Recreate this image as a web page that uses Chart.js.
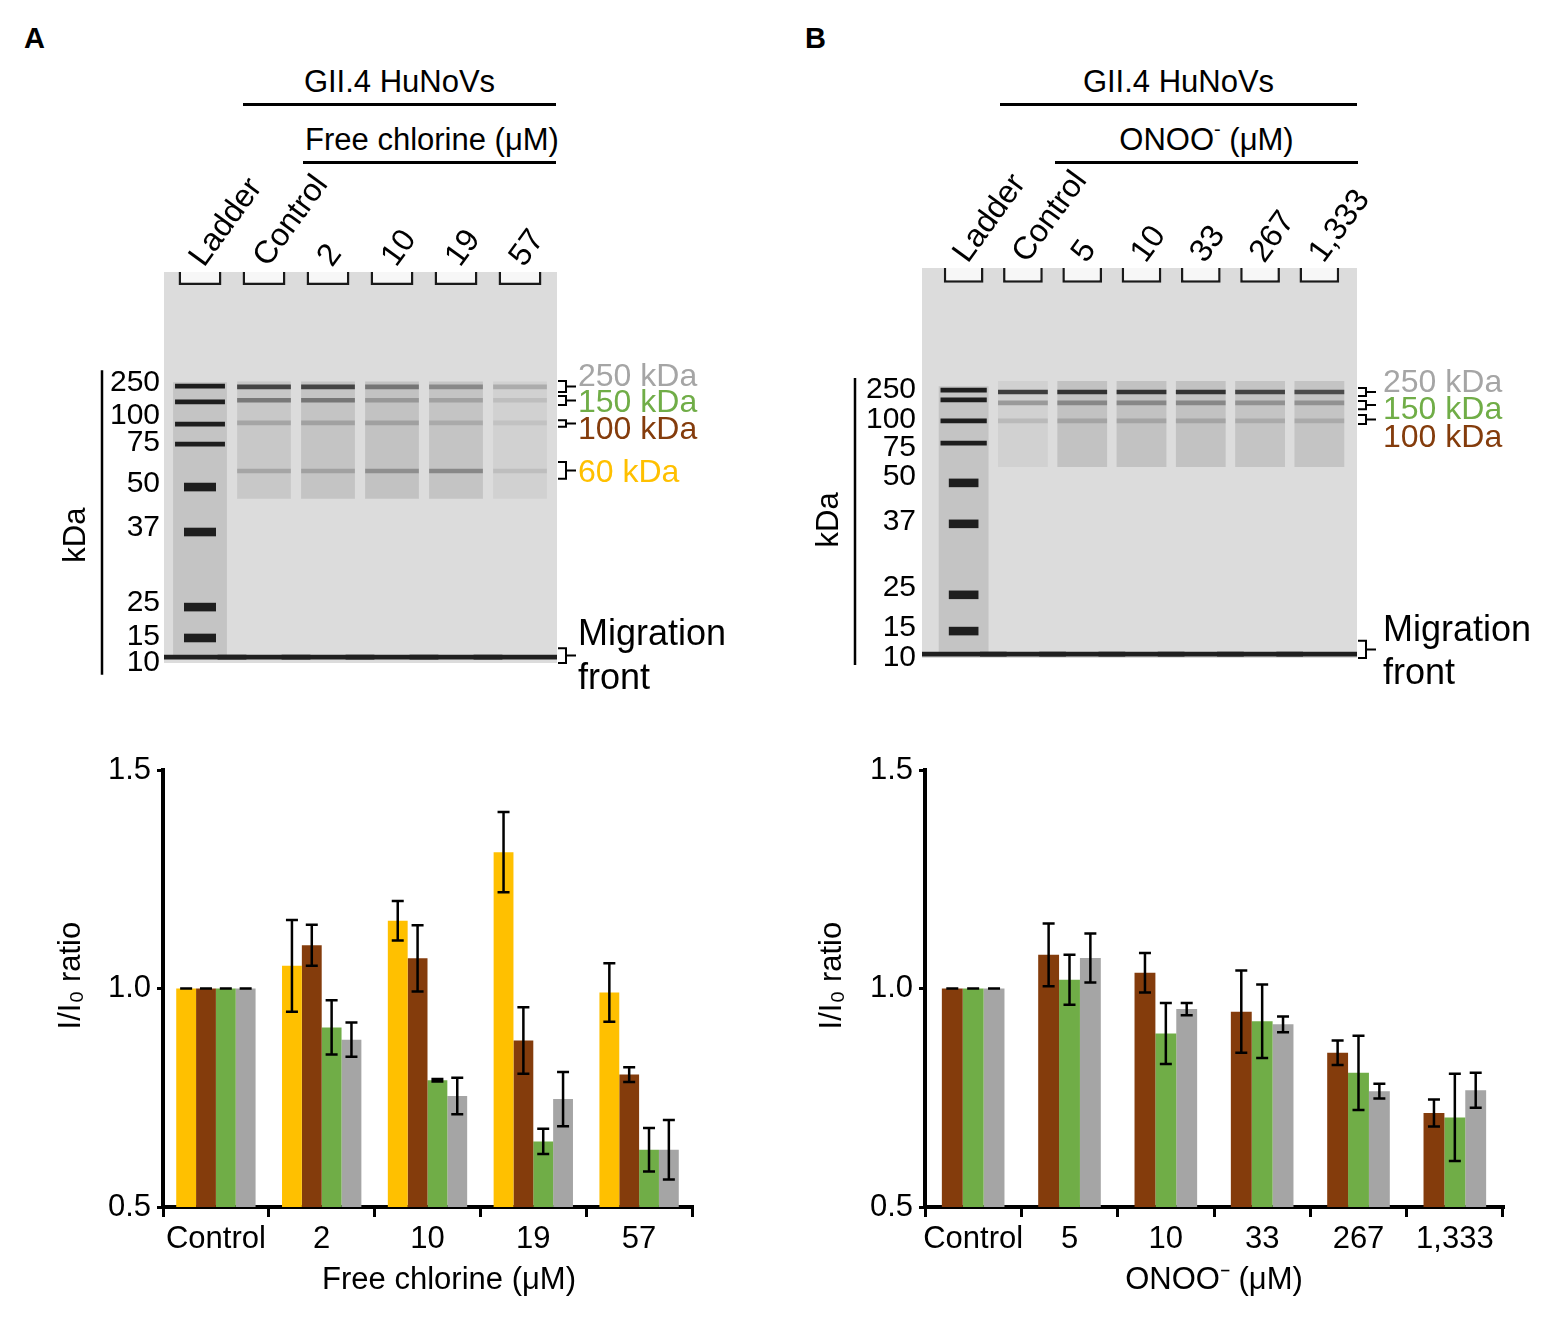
<!DOCTYPE html>
<html>
<head>
<meta charset="utf-8">
<script src="https://cdn.jsdelivr.net/npm/chart.js@4.4.1/dist/chart.umd.min.js"></script>
<style>
  html, body { margin: 0; padding: 0; background: #fff; }
  #fig { position: relative; width: 1562px; height: 1325px; overflow: hidden;
         font-family: "Liberation Sans", Arial, sans-serif; color: #000; }
  .letter { position: absolute; font-weight: bold; font-size: 29px; line-height: 29px; }
  .hdr { position: absolute; font-size: 31px; line-height: 40px; text-align: center; white-space: nowrap; }
  .hdr sup { font-size: 20px; line-height: 0; vertical-align: 0.7em; }
  .rule { position: absolute; height: 3px; background: #000; }
  canvas { position: absolute; }
</style>
</head>
<body>
<div id="fig">
  <div class="letter" style="left:24px;top:24px">A</div>
  <div class="letter" style="left:805px;top:24px">B</div>

  <div class="hdr" style="left:243px;width:313px;top:62px">GII.4 HuNoVs</div>
  <div class="rule" style="left:243px;top:103px;width:313px"></div>
  <div class="hdr" style="left:302px;width:260px;top:120px">Free chlorine (μM)</div>
  <div class="rule" style="left:303px;top:161px;width:253px"></div>

  <div class="hdr" style="left:1000px;width:357px;top:62px">GII.4 HuNoVs</div>
  <div class="rule" style="left:1000px;top:103px;width:357px"></div>
  <div class="hdr" style="left:1055px;width:303px;top:120px">ONOO<sup>-</sup> (μM)</div>
  <div class="rule" style="left:1055px;top:161px;width:303px"></div>

  <canvas id="gelA" width="760" height="540" style="left:0;top:150px"></canvas>
  <canvas id="gelB" width="782" height="540" style="left:780px;top:150px"></canvas>
  <canvas id="barA" width="760" height="605" style="left:0;top:720px"></canvas>
  <canvas id="barB" width="782" height="605" style="left:780px;top:720px"></canvas>
</div>

<script>
// ---------- gel A (free chlorine) ----------
// positions on the gel are migration distance, 0 = wells, 100 = bottom of gel
const lanesA = ['Ladder', 'Control', '2', '10', '19', '57'];
const kdaTicksA = ['250', '100', '75', '50', '37', '25', '15', '10'];
const kdaTickRfA = [28.4, 36.8, 43.7, 54.2, 65.5, 84.7, 93.4, 100];
const ladderBandRfA = [29.2, 33.2, 38.9, 44.0, 55.0, 66.5, 85.7, 93.6];
const bandRfA = [29.4, 32.8, 38.6, 50.9];            // 250, 150, 100, 60 kDa
const bandIntensityA = [
  [0.75, 0.75, 0.45, 0.35, 0.20],
  [0.45, 0.45, 0.25, 0.20, 0.10],
  [0.20, 0.20, 0.20, 0.15, 0.08],
  [0.20, 0.20, 0.30, 0.35, 0.10]
];
const smearA = [0.10, 0.12, 0.13, 0.12, 0.05];
const smearRangeA = [28, 58];
const frontRfA = 98.5;
const markLabelsA = ['250 kDa', '150 kDa', '100 kDa', '60 kDa', ['Migration', 'front']];
const markRfA = [26.9, 33.5, 40.4, 51.4, 98.5];
const bracketsA = [[27.9, 30.7], [31.7, 34.0], [37.9, 39.6], [48.6, 52.9], [96.2, 100]];

// ---------- gel B (peroxynitrite) ----------
const lanesB = ['Ladder', 'Control', '5', '10', '33', '267', '1,333'];
const kdaTicksB = ['250', '100', '75', '50', '37', '25', '15', '10'];
const kdaTickRfB = [31.3, 39.0, 46.2, 53.6, 65.1, 82.1, 92.3, 100];
const ladderBandRfB = [31.3, 33.8, 39.2, 44.9, 55.1, 65.6, 83.8, 93.1];
const bandRfB = [31.8, 34.6, 39.2];                  // 250, 150, 100 kDa
const bandIntensityB = [
  [0.80, 0.85, 0.85, 0.85, 0.75, 0.70],
  [0.30, 0.35, 0.35, 0.35, 0.30, 0.30],
  [0.12, 0.18, 0.18, 0.18, 0.15, 0.15]
];
const smearB = [0.05, 0.13, 0.13, 0.13, 0.12, 0.12];
const smearRangeB = [29, 51];
const frontRfB = 99.0;
const markLabelsB = ['250 kDa', '150 kDa', '100 kDa', ['Migration', 'front']];
const markRfB = [29.5, 36.4, 43.6, 98.6];
const bracketsB = [[30.8, 32.8], [34.1, 36.2], [37.7, 40.0], [95.6, 100]];

// ---------- densitometry ----------
const doseA = ['Control', '2', '10', '19', '57'];
const ratio60A = [1.0, 1.052, 1.155, 1.312, 0.991];
const sd60A = [0, 0.105, 0.045, 0.092, 0.067];
const ratio100A = [1.0, 1.099, 1.069, 0.881, 0.803];
const sd100A = [0, 0.047, 0.076, 0.076, 0.017];
const ratio150A = [1.0, 0.911, 0.790, 0.650, 0.631];
const sd150A = [0, 0.062, 0.003, 0.029, 0.050];
const ratio250A = [1.0, 0.883, 0.754, 0.747, 0.631];
const sd250A = [0, 0.039, 0.042, 0.062, 0.068];

const doseB = ['Control', '5', '10', '33', '267', '1,333'];
const ratio100B = [1.0, 1.077, 1.036, 0.947, 0.853, 0.715];
const sd100B = [0, 0.072, 0.045, 0.094, 0.028, 0.031];
const ratio150B = [1.0, 1.020, 0.897, 0.925, 0.807, 0.705];
const sd150B = [0, 0.057, 0.070, 0.084, 0.085, 0.100];
const ratio250B = [1.0, 1.070, 0.953, 0.918, 0.765, 0.767];
const sd250B = [0, 0.056, 0.014, 0.018, 0.017, 0.040];

const YELLOW = '#ffc000', BROWN = '#843c0c', GREEN = '#70ad47', GREY = '#a5a5a5';
const FONT = '"Liberation Sans", Arial, sans-serif';

Chart.defaults.font.family = FONT;
Chart.defaults.color = '#000';

// axes are sized by hand, so drop the label overhang chart.js would reserve
const noOverhang = s => { s.paddingTop = 0; s.paddingBottom = 0; s.paddingLeft = 0; s.paddingRight = 0; };

// gel slab, kDa bar and the brackets on the right
const gelPlugin = {
  id: 'gel',
  beforeDatasetsDraw(chart, args, o) {
    const { ctx, chartArea: a } = chart;
    ctx.save();
    ctx.fillStyle = '#dcdcdc';
    ctx.fillRect(a.left - o.padLeft, a.top, a.width + o.padLeft + o.padRight, a.height);
    ctx.restore();
  },
  afterDraw(chart, args, o) {
    const { ctx, chartArea: a, scales: { y } } = chart;
    ctx.save();
    ctx.strokeStyle = '#000';
    ctx.fillStyle = '#000';
    ctx.lineWidth = 2.5;
    const x0 = a.left - o.padLeft - o.barGap;
    ctx.beginPath();
    ctx.moveTo(x0, y.getPixelForValue(o.barFrom));
    ctx.lineTo(x0, y.getPixelForValue(o.barTo));
    ctx.stroke();

    ctx.save();
    ctx.translate(x0 - 26, y.getPixelForValue(o.titleAt));
    ctx.rotate(-Math.PI / 2);
    ctx.font = '31px ' + FONT;
    ctx.textAlign = 'center';
    ctx.textBaseline = 'middle';
    ctx.fillText('kDa', 0, 0);
    ctx.restore();

    ctx.lineWidth = 2;
    const bx = a.right + o.padRight + 1;
    o.brackets.forEach(([t, b]) => {
      const yt = y.getPixelForValue(t), yb = y.getPixelForValue(b), ym = (yt + yb) / 2;
      ctx.beginPath();
      ctx.moveTo(bx, yt); ctx.lineTo(bx + 8, yt); ctx.lineTo(bx + 8, yb); ctx.lineTo(bx, yb);
      ctx.moveTo(bx + 8, ym); ctx.lineTo(bx + 18, ym);
      ctx.stroke();
    });
    ctx.restore();
  }
};

function gelChart(id, g) {
  const ladder = g.lanes[0];
  const samples = g.lanes.slice(1);

  const smear = samples.map((l, i) => ({ x: l, y: g.smearRange, a: g.smear[i] }));
  smear.push({ x: ladder, y: [g.ladderRf[0] - 1, g.frontRf], a: 0.12 });
  const bands = [];
  g.bandRf.forEach((rf, b) => samples.forEach((l, i) =>
    bands.push({ x: l, y: [rf - 0.6, rf + 0.6], a: g.bandIntensity[b][i] })));
  const ladderTop = g.ladderRf.slice(0, 4).map(rf => ({ x: ladder, y: [rf - 0.6, rf + 0.6] }));
  const ladderLow = g.ladderRf.slice(4).map(rf => ({ x: ladder, y: [rf - 1.1, rf + 1.1] }));
  const front = g.lanes.map(l => ({ x: l, y: [g.frontRf - 0.6, g.frontRf + 0.6] }));
  const wells = g.lanes.map(l => ({ x: l, y: [0, g.wellDepth] }));

  const shade = c => `rgba(25,25,25,${c.raw ? c.raw.a : 0})`;
  const common = { grouped: false, borderWidth: 0, categoryPercentage: 1 };
  const bare = { display: false, drawTicks: false };

  return new Chart(document.getElementById(id), {
    type: 'bar',
    data: {
      labels: g.lanes,
      datasets: [
        { ...common, data: wells, order: 1, backgroundColor: '#f7f7f7', borderColor: '#1a1a1a',
          borderWidth: 2.5, borderSkipped: 'start', barPercentage: 0.67 },
        { ...common, data: front, order: 2, backgroundColor: '#202020', categoryPercentage: 1.45,
          barPercentage: 1, clip: { left: g.padLeft, right: g.padRight, top: 0, bottom: 0 } },
        { ...common, data: ladderTop, order: 3, backgroundColor: 'rgba(15,15,15,0.92)', barPercentage: 0.78 },
        { ...common, data: ladderLow, order: 3, backgroundColor: 'rgba(15,15,15,0.92)', barPercentage: 0.5 },
        { ...common, data: bands, order: 4, backgroundColor: shade, barPercentage: 0.84 },
        { ...common, data: smear, order: 5, backgroundColor: shade, barPercentage: 0.84 }
      ]
    },
    options: {
      responsive: false,
      animation: false,
      layout: { padding: { top: 0, left: 0, right: 0, bottom: g.bottomPad } },
      plugins: {
        legend: { display: false },
        tooltip: { enabled: false },
        gel: { padLeft: g.padLeft, padRight: g.padRight, barGap: g.barGap,
               barFrom: g.barFrom, barTo: g.barTo, titleAt: g.titleAt, brackets: g.brackets }
      },
      scales: {
        x: {
          position: 'top',
          offset: true,
          grid: bare,
          border: { display: false },
          ticks: { autoSkip: false, minRotation: 54, maxRotation: 54, padding: -2, labelOffset: 28,
                   font: { size: 32 } },
          afterFit: s => { s.height = g.topH; noOverhang(s); }
        },
        y: {
          position: 'left',
          min: 0, max: 100, reverse: true,
          grid: bare,
          border: { display: false },
          afterBuildTicks: s => { s.ticks = g.kdaRf.map(v => ({ value: v })); },
          ticks: { autoSkip: false, padding: g.tickPad, font: { size: 30 },
                   callback: (v, i) => g.kdaTicks[i] },
          afterFit: s => { s.width = g.leftW; noOverhang(s); }
        },
        yR: {
          position: 'right',
          min: 0, max: 100, reverse: true,
          grid: bare,
          border: { display: false },
          afterBuildTicks: s => { s.ticks = g.markRf.map(v => ({ value: v })); },
          ticks: {
            autoSkip: false, padding: g.markPad,
            color: c => g.markColors[c.index],
            font: c => ({ family: FONT, size: c.index === g.markRf.length - 1 ? 36 : 32 }),
            callback: (v, i) => g.markLabels[i]
          },
          afterFit: s => { s.width = g.rightW; noOverhang(s); }
        }
      }
    },
    plugins: [gelPlugin]
  });
}

gelChart('gelA', {
  lanes: lanesA, kdaTicks: kdaTicksA, kdaRf: kdaTickRfA, ladderRf: ladderBandRfA,
  bandRf: bandRfA, bandIntensity: bandIntensityA, smear: smearA, smearRange: smearRangeA,
  frontRf: frontRfA, markLabels: markLabelsA, markRf: markRfA, brackets: bracketsA,
  markColors: [GREY, GREEN, BROWN, YELLOW, '#000'],
  wellDepth: 3.3, topH: 122, leftW: 168, rightW: 208, bottomPad: 27,
  padLeft: 4, padRight: 5, tickPad: 8, markPad: 26, barGap: 62,
  barFrom: 25.1, barTo: 103, titleAt: 67.3
});

gelChart('gelB', {
  lanes: lanesB, kdaTicks: kdaTicksB, kdaRf: kdaTickRfB, ladderRf: ladderBandRfB,
  bandRf: bandRfB, bandIntensity: bandIntensityB, smear: smearB, smearRange: smearRangeB,
  frontRf: frontRfB, markLabels: markLabelsB, markRf: markRfB, brackets: bracketsB,
  markColors: [GREY, GREEN, BROWN, '#000'],
  wellDepth: 3.8, topH: 118, leftW: 154, rightW: 213, bottomPad: 32,
  padLeft: 12, padRight: 8, tickPad: 18, markPad: 34, barGap: 67,
  barFrom: 28.2, barTo: 101.8, titleAt: 64.6
});

// error bars from each dataset's "errors" array
const errorBarPlugin = {
  id: 'errorBars',
  afterDatasetsDraw(chart) {
    const { ctx, scales: { y } } = chart;
    ctx.save();
    ctx.strokeStyle = '#000';
    ctx.lineWidth = 2.5;
    chart.data.datasets.forEach((ds, i) => {
      chart.getDatasetMeta(i).data.forEach((bar, j) => {
        const v = ds.data[j], e = ds.errors[j];
        const yt = y.getPixelForValue(v + e), yb = y.getPixelForValue(v - e);
        ctx.beginPath();
        ctx.moveTo(bar.x, yt); ctx.lineTo(bar.x, yb);
        ctx.moveTo(bar.x - 6, yt); ctx.lineTo(bar.x + 6, yt);
        ctx.moveTo(bar.x - 6, yb); ctx.lineTo(bar.x + 6, yb);
        ctx.stroke();
      });
    });
    ctx.restore();
  }
};

function ratioChart(id, r) {
  return new Chart(document.getElementById(id), {
    type: 'bar',
    data: {
      labels: r.labels,
      datasets: r.series.map(s => ({
        data: s.values, errors: s.errors, backgroundColor: s.color,
        borderWidth: 0, barPercentage: 1, categoryPercentage: r.catPct
      }))
    },
    options: {
      responsive: false,
      animation: false,
      layout: { padding: { top: 50, right: r.rightPad, left: 0, bottom: 0 } },
      plugins: { legend: { display: false }, tooltip: { enabled: false } },
      scales: {
        x: {
          grid: { display: true, drawOnChartArea: false, drawTicks: true, tickLength: 10,
                  color: '#000', lineWidth: 3, offset: true },
          border: { display: true, color: '#000', width: 4 },
          ticks: { autoSkip: false, minRotation: 0, maxRotation: 0, padding: 4, font: { size: 31 } },
          title: { display: true, text: r.xTitle, font: { size: 31 }, padding: { top: 0, bottom: 26 } },
          afterFit: s => { s.height = 118; noOverhang(s); }
        },
        y: {
          min: 0.5, max: 1.5,
          grid: { drawOnChartArea: false, tickLength: 6, color: '#000', lineWidth: 3 },
          border: { display: true, color: '#000', width: 4 },
          ticks: { stepSize: 0.5, padding: 6, font: { size: 31 }, callback: v => v.toFixed(1) },
          title: { display: true, text: '\u00a0\u00a0\u00a0I/I₀ ratio', font: { size: 31 },
                   padding: { top: r.yTitlePad, bottom: 0 } },
          afterFit: s => { s.width = r.leftW; noOverhang(s); }
        }
      }
    },
    plugins: [errorBarPlugin]
  });
}

ratioChart('barA', {
  labels: doseA,
  xTitle: '\u00a0\u00a0\u00a0\u00a0\u00a0Free chlorine (μM)',
  series: [
    { values: ratio60A, errors: sd60A, color: YELLOW },
    { values: ratio100A, errors: sd100A, color: BROWN },
    { values: ratio150A, errors: sd150A, color: GREEN },
    { values: ratio250A, errors: sd250A, color: GREY }
  ],
  catPct: 0.75, leftW: 163, rightPad: 68, yTitlePad: 53
});

ratioChart('barB', {
  labels: doseB,
  xTitle: 'ONOO⁻ (μM)',
  series: [
    { values: ratio100B, errors: sd100B, color: BROWN },
    { values: ratio150B, errors: sd150B, color: GREEN },
    { values: ratio250B, errors: sd250B, color: GREY }
  ],
  catPct: 0.65, leftW: 145, rightPad: 59, yTitlePad: 34
});
</script>
</body>
</html>
